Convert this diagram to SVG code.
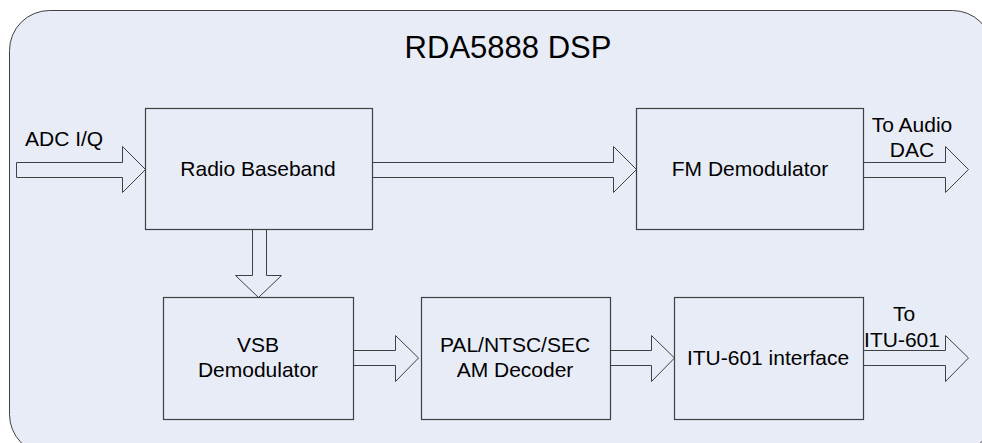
<svg xmlns="http://www.w3.org/2000/svg" width="982" height="443" viewBox="0 0 982 443">
<style>
.bg{fill:#e8ecf7;stroke:#404040;stroke-width:1}
.box{fill:#e8ecf7;stroke:#404040;stroke-width:1.2}
.arr{fill:#e8ecf7;stroke:#404040;stroke-width:1}
text{font-family:"Liberation Sans",Arial,sans-serif;font-size:21px;fill:#000}
.t{text-anchor:middle}
</style>
<rect width="982" height="443" fill="#ffffff"/>
<g id="dsp">
<rect class="bg" x="9.5" y="10.5" width="983" height="444" rx="40" ry="40"/>
<text class="t" x="508" y="58" style="font-size:31px">RDA5888 DSP</text>
</g>
<g id="connectors">
<path class="arr" d="M16.5,162.5 H122.5 V146.5 L145.5,169.5 L122.5,192.5 V177.5 H16.5 Z"/>
<path class="arr" d="M372.5,162.5 H613.5 V146.5 L636.5,169.5 L613.5,192.5 V177.5 H372.5 Z"/>
<path class="arr" d="M863.5,162.5 H945.5 V146.5 L968.5,169.5 L945.5,192.5 V177.5 H863.5 Z"/>
<path class="arr" d="M252.5,229.5 V275.5 H235.5 L258.5,297.5 L281.5,275.5 H266.5 V229.5 Z"/>
<path class="arr" d="M353.5,350.5 H395.5 V335.5 L418.5,358 L395.5,381.5 V365.5 H353.5 Z"/>
<path class="arr" d="M610.5,350.5 H651.5 V335.5 L674.5,358 L651.5,381.5 V365.5 H610.5 Z"/>
<path class="arr" d="M863.5,350.5 H945.5 V335.5 L968.5,358 L945.5,381.5 V365.5 H863.5 Z"/>
<text x="25" y="146">ADC I/Q</text>
<text class="t" x="912" y="132">To Audio</text>
<text class="t" x="912" y="157">DAC</text>
<text class="t" x="904" y="321">To</text>
<text class="t" x="902" y="347">ITU-601</text>
</g>
<g id="radio">
<rect class="box" x="145.5" y="108.5" width="227" height="121"/>
<text class="t" x="258" y="176">Radio Baseband</text>
</g>
<g id="fm">
<rect class="box" x="636.5" y="108.5" width="227" height="121"/>
<text class="t" x="750" y="176">FM Demodulator</text>
</g>
<g id="vsb">
<rect class="box" x="163.5" y="297.5" width="190" height="122"/>
<text class="t" x="258" y="352">VSB</text>
<text class="t" x="258" y="377">Demodulator</text>
</g>
<g id="pal">
<rect class="box" x="421.5" y="297.5" width="189" height="122"/>
<text class="t" x="515" y="352">PAL/NTSC/SEC</text>
<text class="t" x="515" y="377">AM Decoder</text>
</g>
<g id="itu">
<rect class="box" x="674.5" y="297.5" width="189" height="122"/>
<text class="t" x="768" y="365">ITU-601 interface</text>
</g>
</svg>
